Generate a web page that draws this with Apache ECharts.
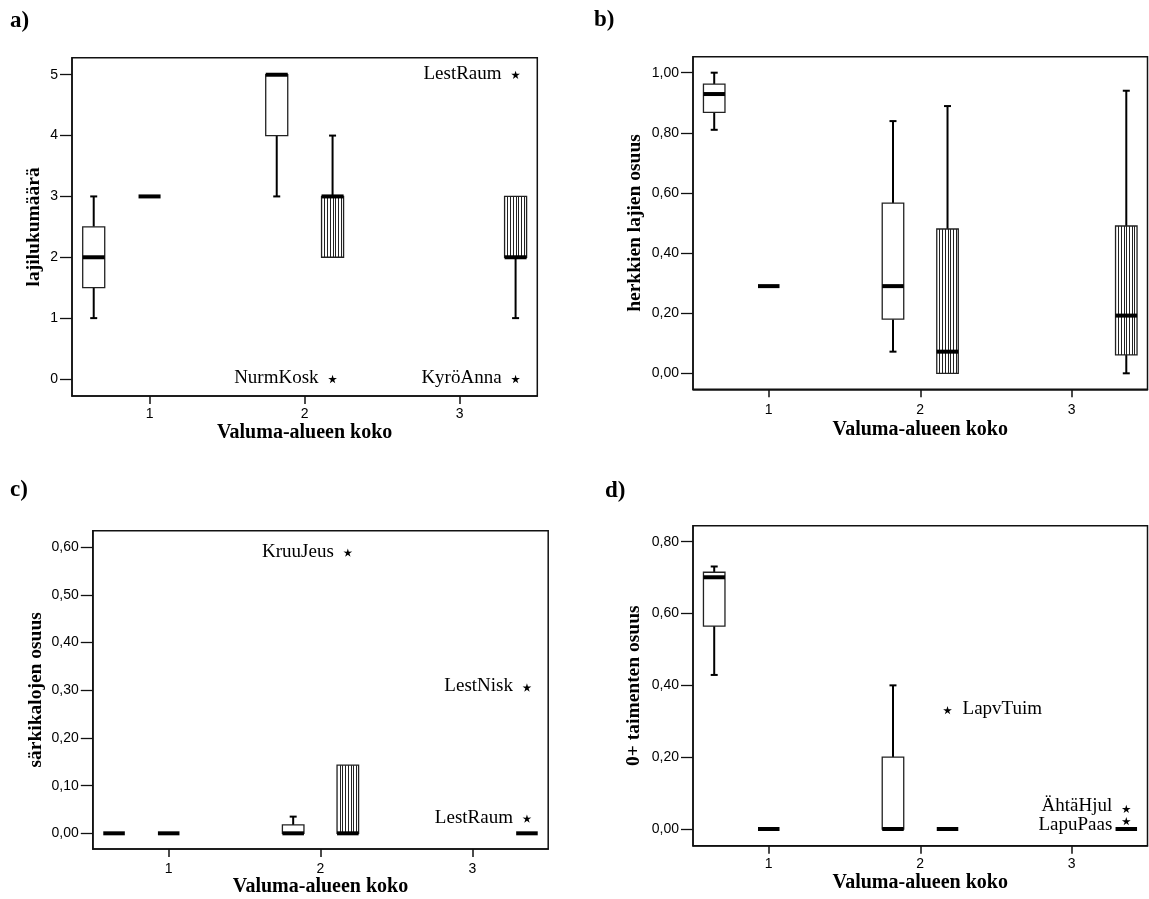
<!DOCTYPE html>
<html>
<head>
<meta charset="utf-8">
<script src="https://cdn.jsdelivr.net/npm/echarts@6/dist/echarts.min.js"></script>
<style>
html,body{margin:0;padding:0;background:#fff;}
#chart{width:1149px;height:899px;}
</style>
</head>
<body>
<div id="chart"></div>
<script>
// ---------------- data ----------------
const categories = ['1', '2', '3'];
const xTitle = 'Valuma-alueen koko';

// box statistics per category: [min, Q1, median, Q3, max]; null = no box
// group 0 = white box, group 1 = vertically striped box
const aWhite   = [[1, 1.5, 2, 2.5, 3], [3, 4, 5, 5, 5], null];
const aStriped = [[3, 3, 3, 3, 3], [2, 2, 3, 3, 4], [1, 2, 2, 3, 3]];
const aOutliers = [[2, 1, 5, 'LestRaum'], [1, 1, 0, 'NurmKosk'], [2, 1, 0, 'KyröAnna']];
const aTicks = [0, 1, 2, 3, 4, 5];

const bWhite   = [[0.81, 0.868, 0.929, 0.962, 1.00], [0.072, 0.18, 0.29, 0.566, 0.839], null];
const bStriped = [[0.29, 0.29, 0.29, 0.29, 0.29], [0, 0, 0.072, 0.48, 0.889], [0, 0.061, 0.192, 0.49, 0.94]];
const bOutliers = [];
const bTicks = [0, 0.2, 0.4, 0.6, 0.8, 1.0];

const cWhite   = [[0, 0, 0, 0, 0], [0, 0, 0, 0.0175, 0.035], null];
const cStriped = [[0, 0, 0, 0, 0], [0, 0, 0, 0.143, 0.143], [0, 0, 0, 0, 0]];
const cOutliers = [[1, 1, 0.589, 'KruuJeus'], [2, 1, 0.306, 'LestNisk'], [2, 1, 0.031, 'LestRaum']];
const cTicks = [0, 0.1, 0.2, 0.3, 0.4, 0.5, 0.6];

const dWhite   = [[0.429, 0.565, 0.701, 0.715, 0.731], [0, 0, 0, 0.20, 0.40], null];
const dStriped = [[0, 0, 0, 0, 0], [0, 0, 0, 0, 0], [0, 0, 0, 0, 0]];
const dOutliers = [[1, 1, 0.331, 'LapvTuim'], [2, 1, 0.056, 'ÄhtäHjul'], [2, 1, 0.022, 'LapuPaas']];
const dTicks = [0, 0.2, 0.4, 0.6, 0.8];

const yTitles = ['lajilukumäärä', 'herkkien lajien osuus', 'särkikalojen osuus', '0+ taimenten osuus'];
const panelLetters = ['a)', 'b)', 'c)', 'd)'];

// label placement style for outliers (side and small vertical nudge)
const rightLabelNames = ['LapvTuim'];
const labelNudge = {'LapuPaas': 5, 'ÄhtäHjul': -1.5};

// ---------------- layout ----------------
const panels = [
  {letter: [10, 10],  grid: {left: 72,  top: 57.7, width: 465.3, height: 338.3}, y: [-0.28, 5.28],     ticks: aTicks, dec: 0, white: aWhite, striped: aStriped, out: aOutliers, yGap: 28, xGap: 26.8, lblMargin: 11},
  {letter: [594, 9],  grid: {left: 693, top: 56.7, width: 454.5, height: 332.6}, y: [-0.0532, 1.0532], ticks: bTicks, dec: 2, white: bWhite, striped: bStriped, out: bOutliers, yGap: 48.5, xGap: 30.7, lblMargin: 14},
  {letter: [10, 479], grid: {left: 92.8, top: 530.7, width: 455.4, height: 318.3}, y: [-0.0329, 0.6348], ticks: cTicks, dec: 2, white: cWhite, striped: cStriped, out: cOutliers, yGap: 46.5, xGap: 21, lblMargin: 12.8},
  {letter: [605, 480], grid: {left: 693, top: 525.7, width: 454.5, height: 320},  y: [-0.0465, 0.8446], ticks: dTicks, dec: 2, white: dWhite, striped: dStriped, out: dOutliers, yGap: 49, xGap: 27.6, lblMargin: 11}
];

const SERIF = '"Liberation Serif", "Times New Roman", serif';
const SANS = '"Liberation Sans", Arial, sans-serif';

// position of a box inside the category band (SPSS clustered layout)
function boxX(api, cat, group) {
  const c = api.coord([cat, 0]);
  const band = api.size([1, 0])[0];
  return {x: c[0] + ((cat - 1) * 0.18 + (group === 0 ? -0.18 : 0.18)) * band, band: band};
}

function boxRenderer(group) {
  return function (params, api) {
    const cat = api.value(0);
    const p = boxX(api, cat, group);
    const x = p.x;
    const w = 0.142 * p.band;
    const yy = i => api.coord([cat, api.value(i)])[1];
    const yMin = yy(1), yQ1 = yy(2), yMed = yy(3), yQ3 = yy(4), yMax = yy(5);
    const l = x - w / 2;
    const children = [];
    const lineStyle = {stroke: '#000', lineWidth: 2};
    if (yQ3 - yMax > 0.5) {
      children.push({type: 'line', shape: {x1: x, y1: yQ3, x2: x, y2: yMax}, style: lineStyle});
      children.push({type: 'line', shape: {x1: x - 3.5, y1: yMax, x2: x + 3.5, y2: yMax}, style: lineStyle});
    }
    if (yMin - yQ1 > 0.5) {
      children.push({type: 'line', shape: {x1: x, y1: yQ1, x2: x, y2: yMin}, style: lineStyle});
      children.push({type: 'line', shape: {x1: x - 3.5, y1: yMin, x2: x + 3.5, y2: yMin}, style: lineStyle});
    }
    if (yQ1 - yQ3 > 0.5) {
      children.push({type: 'rect', shape: {x: l, y: yQ3, width: w, height: yQ1 - yQ3}, style: {fill: '#fff', stroke: '#222', lineWidth: 1.3}});
      if (group === 1) {
        const n = 8;
        for (let k = 1; k < n; k++) {
          const sx = Math.round(l + k * w / n) + 0.5;
          children.push({type: 'line', shape: {x1: sx, y1: yQ3, x2: sx, y2: yQ1}, style: {stroke: '#222', lineWidth: 1}});
        }
      }
    }
    children.push({type: 'rect', shape: {x: l, y: yMed - 2, width: w, height: 4}, style: {fill: '#000'}});
    return {type: 'group', children: children};
  };
}

function starPoints(cx, cy, R, r) {
  const pts = [];
  for (let i = 0; i < 10; i++) {
    const ang = -Math.PI / 2 + i * Math.PI / 5;
    const rad = i % 2 === 0 ? R : r;
    pts.push([cx + rad * Math.cos(ang), cy + rad * Math.sin(ang)]);
  }
  return pts;
}

function outlierRenderer(names) {
  return function (params, api) {
    const cat = api.value(0);
    const group = api.value(1);
    const p = boxX(api, cat, group);
    const y = api.coord([cat, api.value(2)])[1];
    const name = names[params.dataIndex];
    const right = rightLabelNames.indexOf(name) >= 0;
    const dy = labelNudge[name] || 0;
    return {
      type: 'group',
      children: [
        {type: 'polygon', shape: {points: starPoints(p.x, y + 0.5, 4.6, 1.7)}, style: {fill: '#000'}},
        {type: 'text', x: right ? p.x + 15 : p.x - 14, y: y - 1 + dy,
         style: {text: name, fill: '#000', font: '19px ' + SERIF, align: right ? 'left' : 'right', verticalAlign: 'middle'}}
      ]
    };
  };
}

function fmt(dec) {
  return v => dec === 0 ? String(Math.round(v)) : v.toFixed(dec).replace('.', ',');
}

const option = {
  backgroundColor: '#fff',
  animation: false,
  grid: [], xAxis: [], yAxis: [], series: [],
  graphic: []
};

panels.forEach((pn, i) => {
  option.grid.push(Object.assign({show: true, borderColor: '#111', borderWidth: 1.5, backgroundColor: 'transparent'}, pn.grid));
  option.xAxis.push({
    type: 'category', gridIndex: i, data: categories, boundaryGap: true,
    name: xTitle, nameLocation: 'middle', nameGap: pn.xGap,
    nameTextStyle: {fontFamily: SERIF, fontWeight: 'bold', fontSize: 20, color: '#000', verticalAlign: 'top'},
    axisLine: {show: true, onZero: false, lineStyle: {color: '#111', width: 1.5}},
    axisTick: {show: true, alignWithLabel: true, length: 8, lineStyle: {color: '#111', width: 1.5}},
    axisLabel: {show: true, margin: pn.lblMargin, fontFamily: SANS, fontSize: 14, color: '#000'},
    splitLine: {show: false}
  });
  option.yAxis.push({
    type: 'value', gridIndex: i, min: pn.y[0], max: pn.y[1],
    name: yTitles[i], nameLocation: 'middle', nameRotate: 90, nameGap: pn.yGap,
    nameTextStyle: {fontFamily: SERIF, fontWeight: 'bold', fontSize: 19.5, color: '#000'},
    axisLine: {show: true, onZero: false, lineStyle: {color: '#111', width: 1.5}},
    axisTick: {show: true, length: 12, customValues: pn.ticks, lineStyle: {color: '#111', width: 1.3}},
    axisLabel: {show: true, margin: 14, customValues: pn.ticks, formatter: fmt(pn.dec), fontFamily: SANS, fontSize: 14, color: '#000'},
    splitLine: {show: false}
  });
  [pn.white, pn.striped].forEach((arr, g) => {
    const data = [];
    arr.forEach((s, ci) => { if (s) data.push([ci].concat(s)); });
    option.series.push({
      type: 'custom', xAxisIndex: i, yAxisIndex: i,
      renderItem: boxRenderer(g), data: data,
      encode: {x: 0, y: [1, 2, 3, 4, 5]}, silent: true
    });
  });
  if (pn.out.length) {
    option.series.push({
      type: 'custom', xAxisIndex: i, yAxisIndex: i,
      renderItem: outlierRenderer(pn.out.map(o => o[3])),
      data: pn.out.map(o => [o[0], o[1], o[2]]),
      encode: {x: 0, y: 2}, silent: true
    });
  }
  option.graphic.push({
    type: 'text', left: pn.letter[0], top: pn.letter[1],
    style: {text: panelLetters[i], fill: '#000', font: 'bold 23px ' + SERIF}
  });
});

const chart = echarts.init(document.getElementById('chart'), null, {renderer: 'canvas'});
chart.setOption(option);
</script>
</body>
</html>
